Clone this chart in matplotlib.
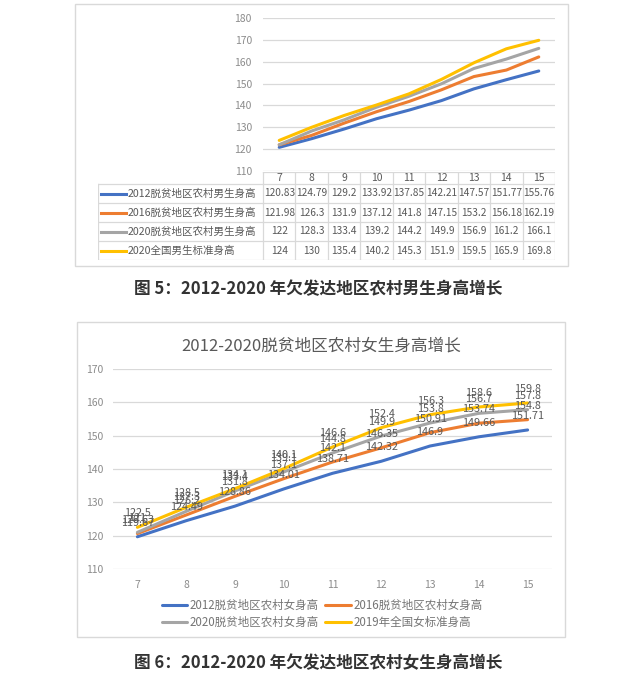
import matplotlib
matplotlib.use("Agg")
import matplotlib.pyplot as plt
from matplotlib.patches import Rectangle

plt.rcParams['font.family'] = ['Noto Sans CJK SC', 'DejaVu Sans']

ages = [7, 8, 9, 10, 11, 12, 13, 14, 15]

# boys (figure 5)
boy_names = ["2012脱贫地区农村男生身高", "2016脱贫地区农村男生身高",
             "2020脱贫地区农村男生身高", "2020全国男生标准身高"]
boy_2012 = [120.83, 124.79, 129.2, 133.92, 137.85, 142.21, 147.57, 151.77, 155.76]
boy_2016 = [121.98, 126.3, 131.9, 137.12, 141.8, 147.15, 153.2, 156.18, 162.19]
boy_2020 = [122, 128.3, 133.4, 139.2, 144.2, 149.9, 156.9, 161.2, 166.1]
boy_std = [124, 130, 135.4, 140.2, 145.3, 151.9, 159.5, 165.9, 169.8]

# girls (figure 6)
girl_names = ["2012脱贫地区农村女身高", "2016脱贫地区农村女身高",
              "2020脱贫地区农村女身高", "2019年全国女标准身高"]
girl_2012 = [119.67, 124.49, 128.86, 134.01, 138.71, 142.32, 146.9, 149.66, 151.71]
girl_2016 = [120.63, 126.2, 131.8, 137.1, 142.1, 146.35, 150.91, 153.74, 154.8]
girl_2020 = [121.0, 127.3, 133.4, 139.1, 144.8, 149.9, 153.8, 156.7, 157.8]
girl_std = [122.5, 128.5, 134.1, 140.1, 146.6, 152.4, 156.3, 158.6, 159.8]

colors = ["#4472C4", "#ED7D31", "#A5A5A5", "#FFC000"]
grid_c = "#D9D9D9"
text_c = "#595959"
W, H = 640, 675


def box(x0, y0, x1, y1):
    # pixel box (top-left origin) -> figure fraction rect
    return [x0 / W, 1 - y1 / H, (x1 - x0) / W, (y1 - y0) / H]


fig = plt.figure(figsize=(6.4, 6.75), dpi=100)

# outer frames
for x0, y0, x1, y1 in [(75, 4, 568, 266), (77, 322, 565, 637)]:
    fig.patches.append(Rectangle((x0 / W, 1 - y1 / H), (x1 - x0) / W, (y1 - y0) / H,
                                 transform=fig.transFigure, fill=False,
                                 edgecolor=grid_c, lw=1))

# ---------- figure 5: boys ----------
ax1 = fig.add_axes(box(263, 18, 555, 171))
boys = [boy_2012, boy_2016, boy_2020, boy_std]
for vals, c in zip(boys, colors):
    ax1.plot(ages, vals, color=c, lw=2.2, solid_capstyle='round')
ax1.set_xlim(6.5, 15.5)
ax1.set_ylim(110, 180)
ax1.set_yticks(range(110, 181, 10))
ax1.set_xticks([])
ax1.grid(axis='y', color=grid_c, lw=0.9)
ax1.set_axisbelow(True)
for s in ax1.spines.values():
    s.set_visible(False)
ax1.tick_params(axis='y', length=0, pad=8, labelsize=7.5, labelcolor="#8C8C8C")

# data table under the chart
tab = fig.add_axes(box(98, 172, 555, 260))
tab.set_xlim(98, 555)
tab.set_ylim(260, 172)
tab.axis('off')
col0, col1 = 263, 555
col_w = (col1 - col0) / len(ages)
head_top, head_bot = 172, 184
row_h = (260 - head_bot) / len(boys)
lk = dict(color=grid_c, lw=0.9)
tab.plot([col0, col1], [head_top, head_top], **lk)
for i in range(len(boys) + 1):
    y = head_bot + i * row_h
    tab.plot([98, col1], [y, y], **lk)
tab.plot([98, 98], [head_bot, 260], **lk)
for j in range(len(ages) + 1):
    x = col0 + j * col_w
    tab.plot([x, x], [head_top, 260], **lk)
for j, a in enumerate(ages):
    tab.text(col0 + (j + 0.5) * col_w, (head_top + head_bot) / 2, str(a),
             ha='center', va='center', fontsize=7.5, color=text_c)
for i, (name, vals, c) in enumerate(zip(boy_names, boys, colors)):
    yc = head_bot + (i + 0.5) * row_h
    tab.plot([101, 126], [yc, yc], color=c, lw=2.2)
    tab.text(128, yc, name, ha='left', va='center', fontsize=7.6, color=text_c)
    for j, v in enumerate(vals):
        tab.text(col0 + (j + 0.5) * col_w, yc, f"{v:g}", ha='center', va='center',
                 fontsize=7.3, color=text_c)

fig.text(318 / W, 1 - 289 / H, "图 5：2012-2020 年欠发达地区农村男生身高增长",
         ha='center', va='center', fontsize=12, fontweight='bold', color="#333333")

# ---------- figure 6: girls ----------
ax2 = fig.add_axes(box(113, 369, 552, 569))
girls = [girl_2012, girl_2016, girl_2020, girl_std]
handles = []
for vals, c, name in zip(girls, colors, girl_names):
    ln, = ax2.plot(ages, vals, color=c, lw=2.2, solid_capstyle='round', label=name)
    handles.append(ln)
    for a, v in zip(ages, vals):
        ax2.annotate(f"{v:g}", (a, v), xytext=(0, 10), textcoords='offset points',
                     ha='center', va='center', fontsize=7.8, color=text_c)
ax2.set_xlim(6.5, 15.5)
ax2.set_ylim(110, 170)
ax2.set_yticks(range(110, 171, 10))
ax2.set_xticks(ages)
ax2.grid(axis='y', color=grid_c, lw=0.9)
ax2.set_axisbelow(True)
for s in ax2.spines.values():
    s.set_visible(False)
ax2.tick_params(length=0, labelsize=7.5, labelcolor="#8C8C8C")
ax2.tick_params(axis='y', pad=7)
ax2.tick_params(axis='x', pad=8)

fig.text(321 / W, 1 - 346 / H, "2012-2020脱贫地区农村女生身高增长",
         ha='center', va='center', fontsize=12, color=text_c)

order = [0, 2, 1, 3]
fig.legend([handles[k] for k in order], [girl_names[k] for k in order],
           ncol=2, loc='center', bbox_to_anchor=(322 / W, 1 - 614 / H),
           frameon=False, fontsize=8.3, labelcolor="#757575", handlelength=2.2,
           handletextpad=0.2, columnspacing=0.6, labelspacing=0.35)

fig.text(318 / W, 1 - 663 / H, "图 6：2012-2020 年欠发达地区农村女生身高增长",
         ha='center', va='center', fontsize=12, fontweight='bold', color="#333333")

fig.savefig("out.png", dpi=100)
